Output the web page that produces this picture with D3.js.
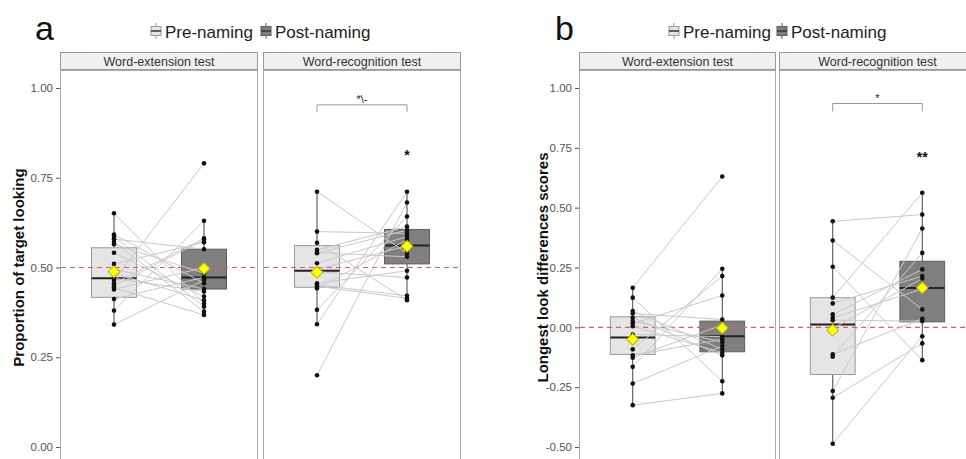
<!DOCTYPE html>
<html>
<head>
<meta charset="utf-8">
<script src="https://cdn.jsdelivr.net/npm/d3@7"></script>
<style>
  body { margin: 0; background: #fff; }
  svg { display: block; font-family: "Liberation Sans", Arial, sans-serif; }
</style>
</head>
<body>
<svg id="chart" width="966" height="459"></svg>
<script>
const groups = ["Pre-naming", "Post-naming"];
const facets = ["Word-extension test", "Word-recognition test"];

// panel a : proportion of target looking (pre[i] paired with post[i])
const aExtPre  = [0.651, 0.592, 0.586, 0.579, 0.572, 0.565, 0.541, 0.510, 0.495, 0.484, 0.465, 0.456, 0.449, 0.444, 0.439, 0.412, 0.380, 0.341, 0.470];
const aExtPost = [0.400, 0.456, 0.391, 0.551, 0.377, 0.484, 0.419, 0.570, 0.440, 0.409, 0.790, 0.581, 0.577, 0.368, 0.500, 0.473, 0.630, 0.465, 0.433];
const aRecPre  = [0.711, 0.600, 0.569, 0.549, 0.541, 0.540, 0.512, 0.495, 0.488, 0.456, 0.452, 0.448, 0.442, 0.382, 0.342, 0.200];
const aRecPost = [0.540, 0.595, 0.409, 0.614, 0.530, 0.604, 0.586, 0.560, 0.472, 0.491, 0.421, 0.414, 0.577, 0.642, 0.711, 0.681];

// panel b : longest look difference scores
const bExtPre  = [0.165, 0.124, 0.068, 0.058, 0.040, 0.026, 0.016, 0.005, -0.030, -0.092, -0.117, -0.127, -0.165, -0.235, -0.325];
const bExtPost = [0.630, -0.225, -0.092, 0.033, -0.117, -0.062, 0.133, -0.106, -0.039, 0.214, -0.050, 0.010, 0.245, -0.078, -0.276];
const bRecPre  = [0.443, 0.363, 0.253, 0.124, 0.100, 0.054, 0.040, 0.030, -0.005, -0.113, -0.123, -0.266, -0.294, -0.486];
const bRecPost = [0.471, 0.075, -0.137, 0.562, 0.214, 0.242, 0.160, 0.026, 0.204, 0.036, 0.311, 0.413, -0.067, -0.037];

// box stats: [low whisker, q1, median, q3, high whisker, mean]
const aExtBox = [[0.341, 0.417, 0.470, 0.555, 0.651, 0.488], [0.368, 0.440, 0.472, 0.551, 0.630, 0.497]];
const aRecBox = [[0.342, 0.445, 0.491, 0.561, 0.711, 0.487], [0.409, 0.510, 0.561, 0.606, 0.711, 0.559]];
const bExtBox = [[-0.325, -0.113, -0.042, 0.044, 0.165, -0.050], [-0.276, -0.102, -0.037, 0.026, 0.245, -0.003]];
const bRecBox = [[-0.486, -0.197, 0.012, 0.124, 0.443, -0.012], [-0.137, 0.023, 0.164, 0.276, 0.562, 0.165]];

const ticksA = [0, 0.25, 0.5, 0.75, 1];
const ticksB = [-0.5, -0.25, 0, 0.25, 0.5, 0.75, 1];

const boxFill = ["#e5e5e5", "#7f7f7f"];
const boxStroke = ["#999", "#5e5e5e"];

const svg = d3.select("#chart");

function legendKey(g, cx, cy, j) {
  g.append("line").attr("x1", cx).attr("x2", cx).attr("y1", cy - 8).attr("y2", cy + 8)
    .attr("stroke", boxStroke[j]);
  g.append("rect").attr("x", cx - 5).attr("y", cy - 4.5).attr("width", 10).attr("height", 9)
    .attr("fill", boxFill[j]).attr("stroke", boxStroke[j]);
  g.append("line").attr("x1", cx - 5).attr("x2", cx + 5).attr("y1", cy).attr("y2", cy)
    .attr("stroke", "#333").attr("stroke-width", 1.5);
}

function drawPanel(p) {
  const g = svg.append("g");
  const y = d3.scaleLinear().domain(p.yDomain).range([465, 70]);

  // letter + legend
  g.append("text").attr("x", p.letterX).attr("y", 40).attr("font-size", 34).attr("fill", "#111").text(p.letter);
  groups.forEach((grp, j) => {
    legendKey(g, p.legendX[j], 31, j);
    g.append("text").attr("x", p.legendX[j] + 9).attr("y", 37.5)
      .attr("font-size", 17).attr("fill", "#222").text(grp);
  });

  // y axis
  g.append("g")
    .attr("transform", `translate(${p.facetX[0]},0)`)
    .call(d3.axisLeft(y).tickValues(p.ticks).tickFormat(d => d.toFixed(2)).tickSize(4).tickPadding(3))
    .call(a => a.select(".domain").remove())
    .call(a => a.selectAll("line").attr("stroke", "#555"))
    .call(a => a.selectAll("text").attr("fill", "#555").attr("font-size", 11.5)
      .attr("font-family", "Liberation Sans, Arial, sans-serif"));

  g.append("text")
    .attr("transform", `translate(${p.titleX},267.5) rotate(-90)`)
    .attr("text-anchor", "middle").attr("dominant-baseline", "central")
    .attr("font-size", 15).attr("font-weight", "bold").attr("fill", "#111")
    .text(p.title);

  facets.forEach((f, i) => {
    const x0 = p.facetX[i], w = p.facetW;
    const x = d3.scalePoint().domain(groups).range([x0, x0 + w]).padding(0.6);
    const half = x.step() * 0.25;

    g.append("rect").attr("x", x0 + 0.5).attr("y", 70.5).attr("width", w - 1).attr("height", 400)
      .attr("fill", "none").attr("stroke", "#aaa");
    g.append("rect").attr("x", x0 + 0.5).attr("y", 52.5).attr("width", w - 1).attr("height", 17)
      .attr("fill", "#f0f0f0").attr("stroke", "#999");
    g.append("text").attr("x", x0 + w / 2).attr("y", 65.5).attr("text-anchor", "middle")
      .attr("font-size", 12.5).attr("fill", "#333").text(f);

    // boxes and whiskers
    p.boxes[i].forEach((b, j) => {
      const cx = x(groups[j]);
      g.append("line").attr("x1", cx).attr("x2", cx).attr("y1", y(b[0])).attr("y2", y(b[1]))
        .attr("stroke", "#444");
      g.append("line").attr("x1", cx).attr("x2", cx).attr("y1", y(b[3])).attr("y2", y(b[4]))
        .attr("stroke", "#444");
      g.append("rect").attr("x", cx - half).attr("y", y(b[3])).attr("width", half * 2)
        .attr("height", y(b[1]) - y(b[3]))
        .attr("fill", boxFill[j]).attr("stroke", boxStroke[j]);
      g.append("line").attr("x1", cx - half).attr("x2", cx + half).attr("y1", y(b[2])).attr("y2", y(b[2]))
        .attr("stroke", "#222").attr("stroke-width", 2);
    });

    // chance / zero reference
    g.append("line").attr("x1", x0 + 1).attr("x2", x0 + w - 1)
      .attr("y1", y(p.ref)).attr("y2", y(p.ref))
      .attr("stroke", "#e45c5f").attr("stroke-width", 1.1).attr("stroke-dasharray", "5,4");

    // paired lines per participant
    const pairs = d3.zip(p.pre[i], p.post[i]);
    g.selectAll(null).data(pairs).join("line")
      .attr("x1", x(groups[0])).attr("x2", x(groups[1]))
      .attr("y1", d => y(d[0])).attr("y2", d => y(d[1]))
      .attr("stroke", "#c9c9c9").attr("stroke-width", 1);

    [p.pre[i], p.post[i]].forEach((vals, j) => {
      g.selectAll(null).data(vals).join("circle")
        .attr("cx", x(groups[j])).attr("cy", d => y(d)).attr("r", 2.3)
        .attr("fill", "#111");
    });

    // means
    g.selectAll(null).data(p.boxes[i]).join("path")
      .attr("d", d3.symbol().type(d3.symbolSquare).size(70)())
      .attr("transform", (d, j) => `translate(${x(groups[j])},${y(d[5])}) rotate(45)`)
      .attr("fill", "#ffff00").attr("stroke", "#b5b500").attr("stroke-width", 1);

    if (i === 1) {
      const xl = x(groups[0]), xr = x(groups[1]);
      const yb = y(p.bracket), yd = y(p.bracket - p.drop);
      g.append("path").attr("d", `M${xl},${yd}V${yb}H${xr}V${yd}`)
        .attr("fill", "none").attr("stroke", "#999");
      g.append("text").attr("x", (xl + xr) / 2).attr("y", yb - 2).attr("text-anchor", "middle")
        .attr("font-size", 11).attr("fill", "#222").text(p.bracketLabel);
      g.append("text").attr("x", xr).attr("y", y(p.starV) + 7).attr("text-anchor", "middle")
        .attr("font-size", 14).attr("font-weight", "bold").attr("fill", "#111").text(p.starLabel);
    }
  });
}

drawPanel({
  letter: "a", letterX: 35, legendX: [156, 266],
  title: "Proportion of target looking", titleX: 18,
  yDomain: [-0.05, 1.05], ticks: ticksA, ref: 0.5,
  facetX: [60, 263], facetW: 198,
  pre: [aExtPre, aRecPre], post: [aExtPost, aRecPost], boxes: [aExtBox, aRecBox],
  bracket: 0.953, drop: 0.02, bracketLabel: "*\\-", starV: 0.82, starLabel: "*"
});

drawPanel({
  letter: "b", letterX: 555, legendX: [674, 782],
  title: "Longest look differences scores", titleX: 542,
  yDomain: [-0.575, 1.075], ticks: ticksB, ref: 0,
  facetX: [579, 779], facetW: 197,
  pre: [bExtPre, bRecPre], post: [bExtPost, bRecPost], boxes: [bExtBox, bRecBox],
  bracket: 0.935, drop: 0.033, bracketLabel: "*", starV: 0.72, starLabel: "**"
});
</script>
</body>
</html>
